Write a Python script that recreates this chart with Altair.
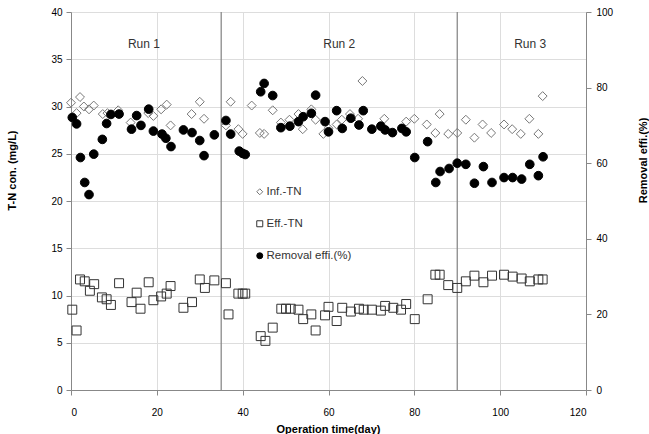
import altair as alt
import pandas as pd

# Influent total nitrogen (mg/L)
inf_day = [0.0, 1.3, 2.1, 3.0, 4.2, 5.3, 7.4, 8.5, 11.0, 13.9, 18.0, 19.2, 21.0, 22.3, 23.2,
           28.1, 30.0, 31.0, 36.1, 37.2, 39.0, 40.0, 42.1, 44.0, 45.0, 47.0, 48.9, 50.9,
           53.0, 54.0, 56.0, 57.0, 58.8, 60.0, 61.9, 63.1, 65.0, 66.9, 67.9, 73.0, 78.1,
           80.0, 82.9, 84.9, 85.9, 87.9, 90.0, 92.0, 94.0, 95.9, 97.9, 100.9, 102.8, 104.8,
           106.8, 108.9, 109.9]
inf_tn = [30.4, 29.3, 31.0, 30.0, 29.7, 30.1, 29.2, 29.3, 29.6, 28.3, 29.3, 29.0, 29.7, 30.2, 28.0,
          29.2, 30.5, 28.7, 28.0, 30.5, 27.6, 27.1, 30.1, 27.2, 27.1, 29.6, 28.3, 28.6,
          29.2, 27.6, 29.7, 28.6, 27.1, 27.7, 28.1, 28.6, 29.2, 28.7, 32.7, 28.7, 28.4,
          28.7, 28.1, 27.2, 29.2, 27.1, 27.2, 28.6, 26.7, 28.1, 27.2, 28.1, 27.6, 27.1,
          28.7, 27.1, 31.1]

# Effluent total nitrogen (mg/L)
eff_day = [0.3, 1.3, 2.1, 3.2, 4.4, 5.4, 7.2, 8.3, 9.3, 11.2, 14.1, 15.3, 16.2, 18.1, 19.2,
           21.0, 22.3, 23.2, 26.2, 28.2, 30.0, 31.2, 33.4, 36.1, 36.7, 39.0, 40.0, 40.6,
           44.2, 45.3, 47.0, 49.0, 50.1, 51.2, 53.0, 54.1, 56.0, 57.0, 59.2, 60.0, 61.9,
           63.2, 65.2, 67.1, 68.2, 70.1, 72.2, 73.2, 75.1, 76.9, 78.1, 80.1, 83.1, 84.9,
           85.9, 87.9, 90.0, 92.0, 94.0, 96.1, 98.1, 100.9, 102.9, 105.0, 106.9, 108.9, 109.9]
eff_tn = [8.5, 6.3, 11.7, 11.5, 10.5, 11.2, 9.8, 9.6, 9.0, 11.3, 9.3, 10.3, 8.6, 11.4, 9.5,
          9.9, 10.2, 11.0, 8.7, 9.3, 11.7, 10.8, 11.6, 11.3, 8.0, 10.2, 10.2, 10.2,
          5.7, 5.2, 6.6, 8.6, 8.6, 8.6, 8.5, 7.5, 8.0, 6.3, 7.9, 8.8, 7.3,
          8.7, 8.3, 8.6, 8.5, 8.5, 8.4, 8.9, 8.7, 8.5, 9.1, 7.5, 9.6, 12.2,
          12.2, 11.1, 10.8, 11.5, 12.1, 11.4, 12.1, 12.2, 12.0, 11.8, 11.5, 11.7, 11.7]

# Removal efficiency (%)
rem_day = [0.3, 1.3, 2.2, 3.2, 4.2, 5.3, 7.3, 8.3, 9.3, 11.2, 14.1, 15.3, 16.3, 18.1, 19.2,
           21.2, 22.1, 23.3, 26.2, 28.2, 30.0, 31.0, 33.4, 36.1, 37.2, 39.2, 40.0, 40.6,
           44.2, 45.0, 47.0, 48.9, 51.0, 53.0, 54.1, 56.0, 57.0, 59.2, 60.0, 61.9, 63.2,
           65.2, 67.1, 68.1, 70.1, 72.2, 73.2, 74.9, 77.1, 78.1, 80.1, 83.1, 85.0, 86.0,
           88.1, 90.0, 92.0, 94.0, 96.1, 98.1, 100.9, 102.9, 105.0, 106.9, 108.9, 110.0]
rem_eff = [72.1, 70.4, 61.5, 54.9, 51.7, 62.4, 66.3, 70.5, 72.9, 73.0, 69.0, 72.6, 70.0, 74.3, 68.5,
           67.7, 66.6, 64.4, 68.8, 68.1, 66.0, 62.0, 67.5, 71.3, 67.7, 63.2, 62.6, 62.3,
           78.9, 81.1, 77.9, 69.4, 69.8, 71.0, 72.3, 73.2, 78.0, 71.0, 68.3, 73.9, 69.2,
           71.9, 70.1, 73.9, 69.0, 69.8, 68.8, 68.1, 69.2, 68.3, 61.5, 65.7, 54.9, 57.8,
           58.6, 60.0, 59.7, 54.7, 59.1, 54.9, 56.2, 56.2, 55.8, 59.7, 56.7, 61.7]

series_names = ["Inf.-TN", "Eff.-TN", "Removal effi.(%)"]
run_labels = ["Run 1", "Run 2", "Run 3"]
run_day = [17, 62.5, 107]
run_y = [36.6, 36.6, 36.6]
boundary_day = [35, 90]

tn = pd.concat([
    pd.DataFrame({"day": inf_day, "val": inf_tn, "series": series_names[0]}),
    pd.DataFrame({"day": eff_day, "val": eff_tn, "series": series_names[1]}),
])
rem = pd.DataFrame({"day": rem_day, "val": rem_eff, "series": series_names[2]})
runs = pd.DataFrame({"label": run_labels, "day": run_day, "y": run_y})
bounds = pd.DataFrame({"day": boundary_day})

FONT = "Liberation Sans"
GRAY = "#8a8a8a"

leg = alt.Legend(title=None, orient="none", legendX=183, legendY=174, padding=0,
                 rowPadding=19, labelOffset=1, symbolSize=36, symbolStrokeWidth=1,
                 labelFont=FONT, labelFontSize=11.5, labelColor="#333333")
shape = alt.Shape("series:N", scale=alt.Scale(domain=series_names,
                  range=["diamond", "square", "circle"]), legend=leg)
fill = alt.Fill("series:N", scale=alt.Scale(domain=series_names,
                range=["transparent", "transparent", "black"]), legend=leg)
stroke = alt.Stroke("series:N", scale=alt.Scale(domain=series_names,
                    range=["#777777", "#333333", "black"]), legend=leg)

x_enc = alt.X("day:Q", scale=alt.Scale(domain=[0, 120], nice=False),
              axis=alt.Axis(values=[0, 20, 40, 60, 80, 100, 120], title="Operation time(day)",
                            titleX=257, titleY=33, titleBaseline="top", labelPadding=12))

left_axis = alt.Axis(values=[0, 5, 10, 15, 20, 25, 30, 35, 40], title="T-N con. (mg/L)",
                     titleX=-59, titleY=158, titleAngle=270, titleAlign="center",
                     titleBaseline="middle", labelPadding=4)
right_axis = alt.Axis(values=[0, 20, 40, 60, 80, 100], title="Removal effi.(%)", orient="right",
                      titleX=57, titleY=148, titleAngle=270, titleAlign="center",
                      titleBaseline="middle", labelPadding=5)

tn_points = alt.Chart(tn).mark_point(size=80, strokeWidth=1, opacity=1).encode(
    x=x_enc,
    y=alt.Y("val:Q", scale=alt.Scale(domain=[0, 40], nice=False), axis=left_axis),
    shape=shape, fill=fill, stroke=stroke,
)

bound_rules = alt.Chart(bounds).mark_rule(color=GRAY, strokeWidth=1.3).encode(x="day:Q")

run_text = alt.Chart(runs).mark_text(font=FONT, fontSize=12, color="#333333").encode(
    x="day:Q", y="y:Q", text="label:N")

left = alt.layer(bound_rules, tn_points, run_text)

rem_points = alt.Chart(rem).mark_point(size=75, strokeWidth=1, opacity=1).encode(
    x=x_enc,
    y=alt.Y("val:Q", scale=alt.Scale(domain=[0, 100], nice=False), axis=right_axis),
    shape=shape, fill=fill, stroke=stroke,
)

chart = alt.layer(left, rem_points).resolve_scale(y="independent").properties(
    width=515, height=378,
    autosize=alt.AutoSizeParams(type="none"),
    padding={"left": 71, "top": 12, "right": 63, "bottom": 44},
).configure_view(stroke=GRAY, strokeWidth=1).configure_axis(
    grid=False, domainColor=GRAY, tickColor=GRAY, tickSize=5,
    labelFont=FONT, labelFontSize=11.5, labelColor="#404040",
    titleFont=FONT, titleFontSize=10.5, titleFontWeight="bold", titleColor="#222222",
).configure(background="white")

chart.save("out.html", embed_options={"renderer": "svg", "actions": False})
